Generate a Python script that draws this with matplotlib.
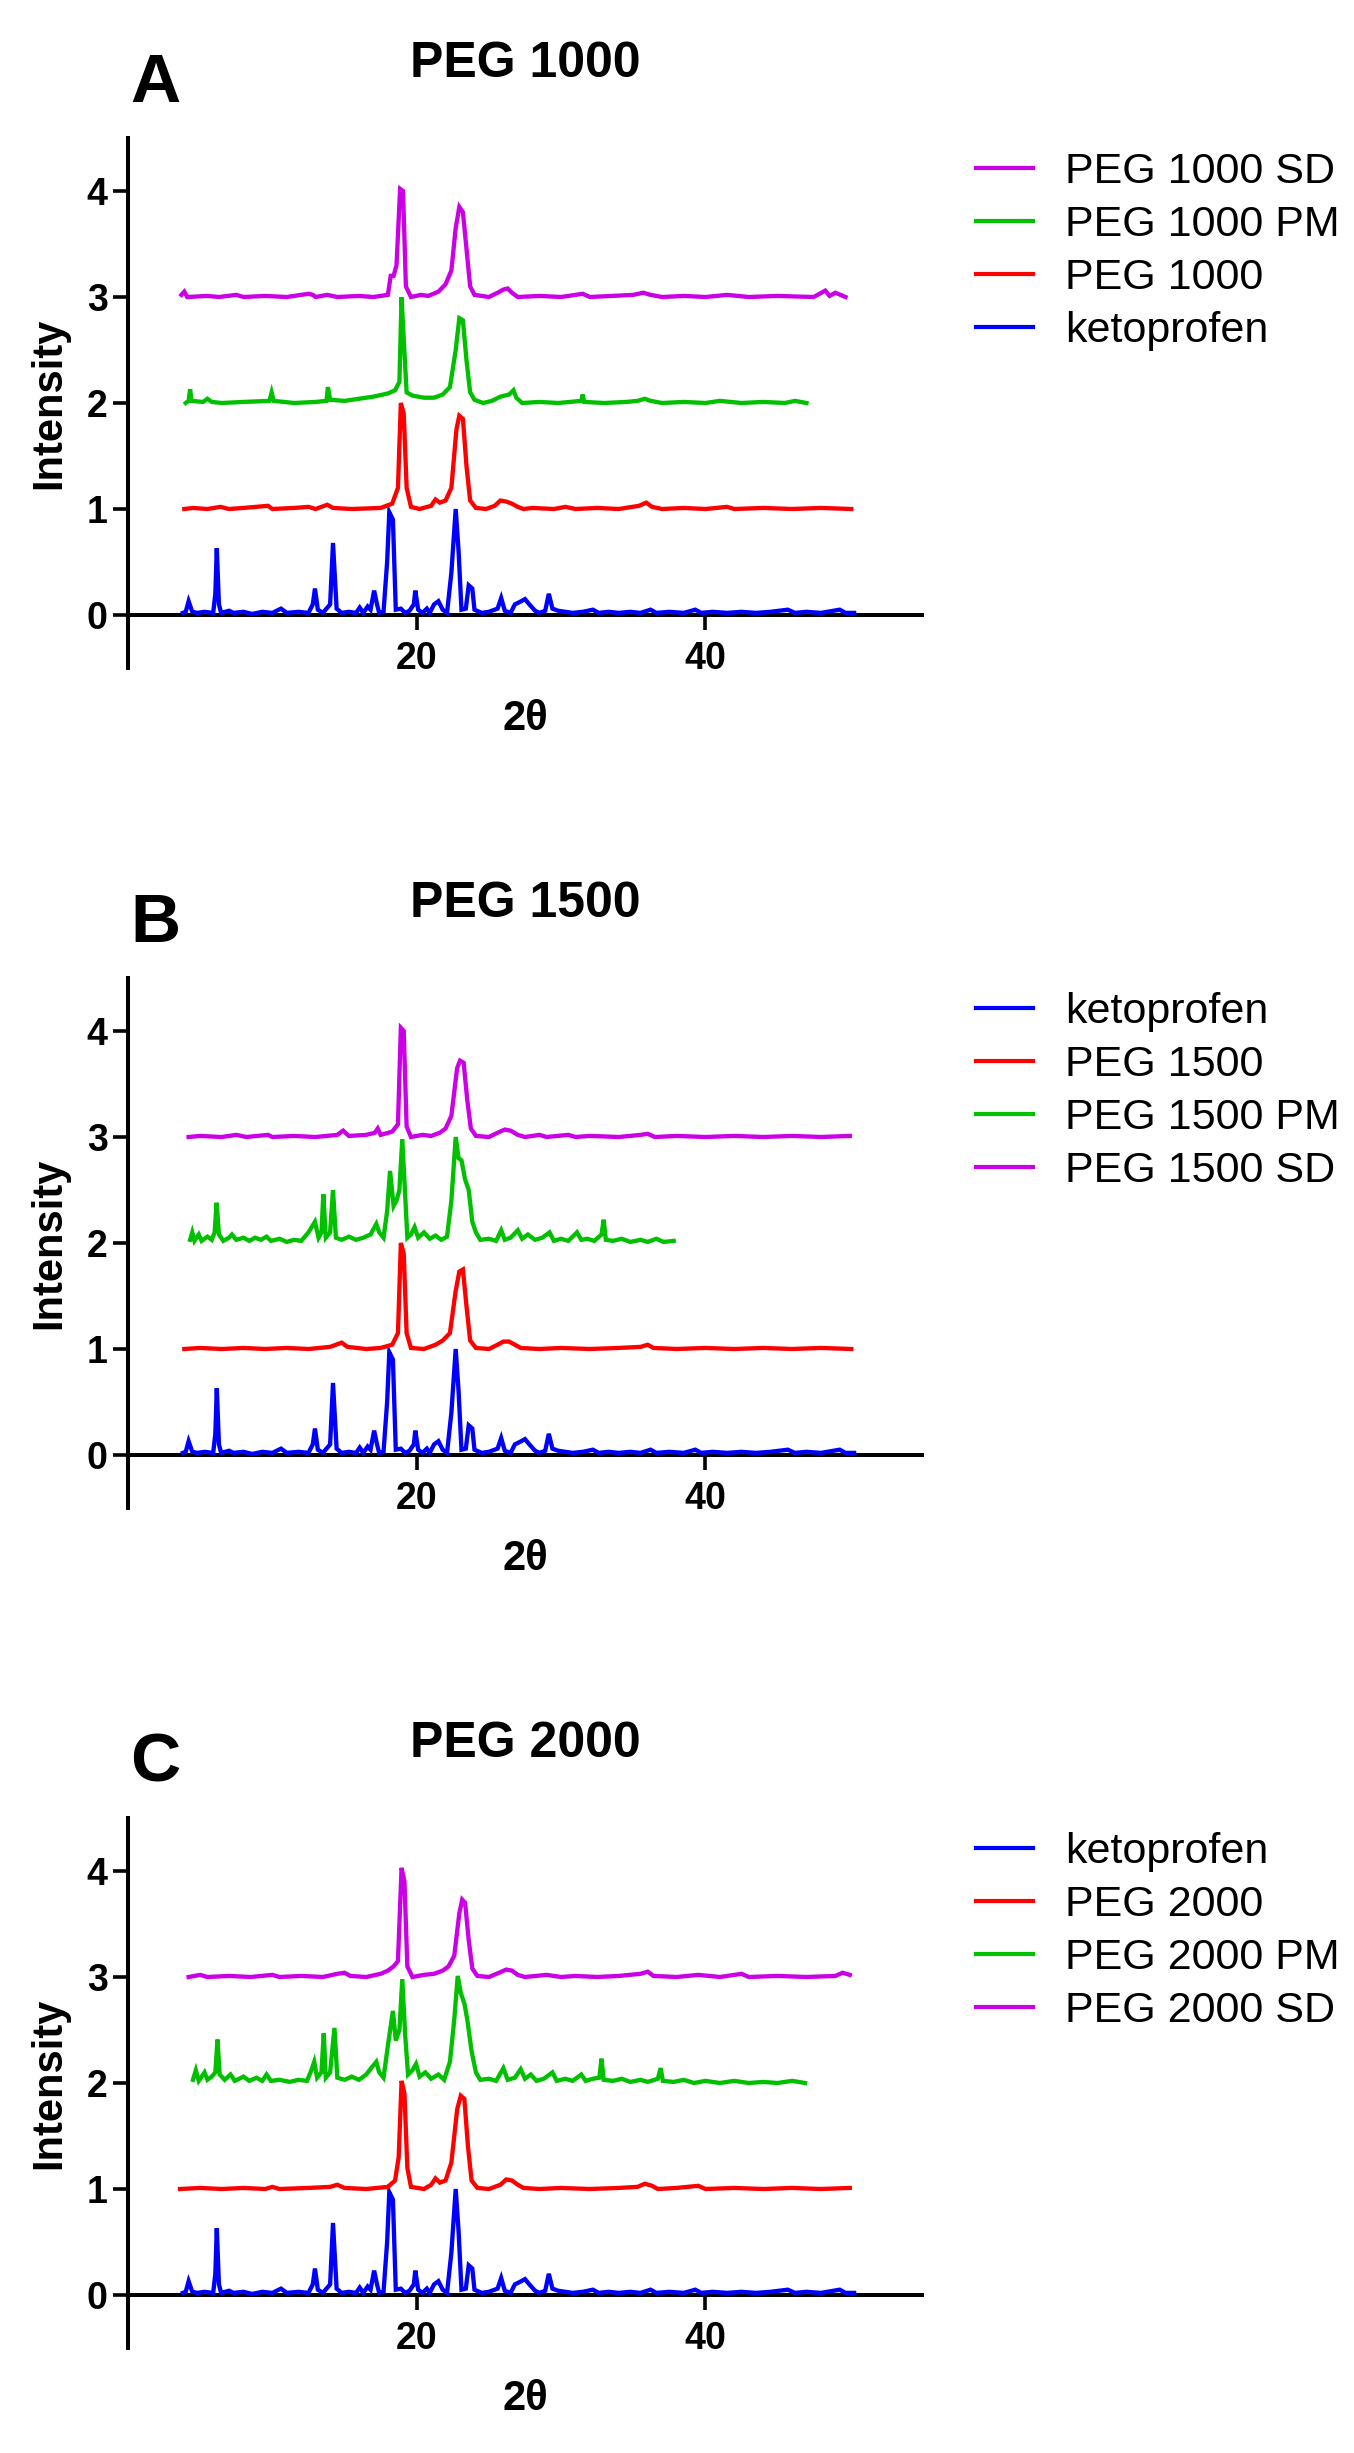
import matplotlib
matplotlib.use("Agg")
import matplotlib.pyplot as plt

plt.rcParams['font.family'] = ['Liberation Sans', 'DejaVu Sans']

# colours of the four samples
c_keto = '#0000FF'
c_peg = '#FF0000'
c_pm = '#00C000'
c_sd = '#CC00E6'

# vertical offset of each trace in the stack
offsets = [0, 1, 2, 3]

# ketoprofen (same pattern in all three panels), normalised intensity
keto_x = [3.8, 4.0, 4.2, 4.45, 4.8, 5.3, 5.9, 6.05, 6.15, 6.3, 6.45, 7.0, 7.3, 8.0, 8.6, 9.3,
          10.0, 10.6, 11.0, 11.8, 12.5, 12.8, 12.95, 13.15, 13.5, 14.0, 14.2, 14.45, 14.8,
          15.3, 15.8, 16.05, 16.3, 16.6, 16.8, 17.05, 17.25, 17.4, 17.7, 17.95, 18.1, 18.35,
          18.55, 18.9, 19.2, 19.5, 19.8, 19.9, 20.1, 20.4, 20.7, 20.9, 21.2, 21.5, 21.8, 22.1,
          22.4, 22.7, 22.9, 23.1, 23.4, 23.6, 23.85, 24.0, 24.5, 25.0, 25.6, 25.85, 26.1, 26.5,
          26.8, 27.1, 27.5, 27.8, 28.2, 28.5, 28.9, 29.15, 29.4, 29.8, 30.3, 30.8, 31.5, 32.2,
          32.6, 33.3, 34.0, 34.8, 35.5, 36.2, 36.6, 37.5, 38.5, 39.3, 39.7, 40.5, 41.5, 42.5,
          43.5, 44.5, 45.7, 46.2, 47.0, 48.0, 49.3, 49.7, 50.3]
keto_y = [0.02, 0.03, 0.13, 0.03, 0.02, 0.03, 0.02, 0.2, 0.63, 0.1, 0.02, 0.04, 0.02, 0.03, 0.01, 0.03,
          0.02, 0.06, 0.02, 0.03, 0.02, 0.1, 0.25, 0.05, 0.02, 0.1, 0.68, 0.06, 0.02,
          0.03, 0.02, 0.07, 0.02, 0.08, 0.05, 0.23, 0.1, 0.02, 0.03, 0.5, 0.97, 0.9,
          0.05, 0.06, 0.02, 0.04, 0.1, 0.23, 0.05, 0.02, 0.06, 0.02, 0.1, 0.13, 0.05, 0.02,
          0.4, 1.0, 0.6, 0.05, 0.06, 0.28, 0.25, 0.05, 0.02, 0.03, 0.06, 0.16, 0.04, 0.02,
          0.1, 0.12, 0.15, 0.1, 0.04, 0.02, 0.04, 0.2, 0.06, 0.04, 0.03, 0.02, 0.03, 0.05,
          0.02, 0.03, 0.02, 0.03, 0.02, 0.05, 0.02, 0.03, 0.02, 0.05, 0.02, 0.03, 0.02, 0.03,
          0.02, 0.03, 0.05, 0.02, 0.03, 0.02, 0.05, 0.02, 0.02]

# ---- panel A : PEG 1000 ----
peg1000_x = [3.9, 4.5, 5.5, 6.4, 7.0, 8.0, 9.7, 10.0, 11.5, 12.5, 13.0, 13.8, 14.2, 15.5, 17.5,
             18.3, 18.7, 18.9, 19.1, 19.3, 19.6, 20.2, 21.0, 21.3, 21.6, 22.0, 22.4, 22.75,
             22.95, 23.2, 23.45, 23.7, 24.1, 24.8, 25.4, 25.8, 26.2, 26.6, 27.0, 27.4, 28.0,
             29.5, 30.3, 31.0, 32.5, 34.0, 35.4, 35.9, 36.3, 37.0, 38.5, 40.0, 41.5, 42.0,
             44.0, 46.0, 48.0, 50.1]
peg1000_y = [0.0, 0.01, 0.0, 0.02, 0.0, 0.01, 0.03, 0.0, 0.01, 0.02, 0.0, 0.04, 0.01, 0.0, 0.01,
             0.05, 0.2, 1.0, 0.9, 0.2, 0.02, 0.0, 0.03, 0.09, 0.06, 0.08, 0.2, 0.75,
             0.88, 0.85, 0.4, 0.08, 0.01, 0.0, 0.03, 0.08, 0.07, 0.05, 0.02, 0.0, 0.01,
             0.0, 0.02, 0.0, 0.01, 0.0, 0.03, 0.06, 0.02, 0.0, 0.01, 0.0, 0.02, 0.0,
             0.01, 0.0, 0.01, 0.0]

pm1000_x = [4.0, 4.2, 4.3, 4.4, 5.2, 5.5, 5.8, 6.5, 8.0, 9.8, 9.95, 10.1, 11.5, 13.0, 13.75,
            13.85, 14.0, 15.0, 16.0, 17.0, 18.0, 18.5, 18.8, 18.95, 19.1, 19.3, 19.7, 20.5,
            21.2, 21.8, 22.3, 22.7, 22.95, 23.2, 23.45, 23.7, 24.0, 24.6, 25.2, 25.8, 26.4,
            26.7, 26.9, 27.3, 28.5, 29.8, 31.4, 31.5, 31.6, 33.0, 34.5, 35.3, 35.8, 36.2,
            37.0, 38.5, 40.0, 41.0, 42.5, 44.0, 45.5, 46.2, 47.0]
pm1000_y = [0.0, 0.02, 0.13, 0.02, 0.01, 0.04, 0.01, 0.0, 0.01, 0.02, 0.1, 0.02, 0.0, 0.01, 0.02,
            0.15, 0.03, 0.02, 0.04, 0.06, 0.09, 0.12, 0.2, 1.0, 0.6, 0.1, 0.07, 0.05,
            0.05, 0.08, 0.15, 0.5, 0.8, 0.78, 0.4, 0.1, 0.03, 0.0, 0.02, 0.06, 0.08,
            0.12, 0.05, 0.0, 0.01, 0.0, 0.02, 0.08, 0.01, 0.0, 0.01, 0.02, 0.04, 0.02,
            0.0, 0.01, 0.0, 0.02, 0.0, 0.01, 0.0, 0.02, 0.0]

sd1000_x = [3.7, 3.9, 4.1, 5.5, 6.3, 7.5, 8.0, 9.5, 11.0, 12.5, 12.8, 13.0, 13.8, 14.5, 16.0,
            17.0, 18.0, 18.2, 18.4, 18.6, 18.85, 19.05, 19.25, 19.6, 20.3, 20.8, 21.5, 22.0,
            22.4, 22.7, 22.95, 23.2, 23.45, 23.7, 24.0, 25.0, 25.6, 26.0, 26.3, 26.6, 27.0,
            28.5, 30.0, 31.5, 32.0, 33.5, 35.0, 35.7, 36.2, 37.0, 38.5, 40.0, 41.5, 43.0,
            45.0, 47.5, 48.3, 48.6, 49.0, 49.7]
sd1000_y = [0.02, 0.05, 0.0, 0.01, 0.0, 0.02, 0.0, 0.01, 0.0, 0.03, 0.02, 0.0, 0.02, 0.0, 0.01,
            0.0, 0.02, 0.2, 0.2, 0.3, 1.02, 1.0, 0.1, 0.0, 0.02, 0.01, 0.05, 0.12,
            0.25, 0.65, 0.85, 0.8, 0.45, 0.1, 0.02, 0.0, 0.04, 0.07, 0.08, 0.04, 0.0,
            0.01, 0.0, 0.03, 0.0, 0.01, 0.02, 0.04, 0.02, 0.0, 0.01, 0.0, 0.02, 0.0,
            0.01, 0.0, 0.06, 0.01, 0.04, 0.0]

# ---- panel B : PEG 1500 ----
peg1500_x = [3.9, 5.0, 6.5, 8.0, 9.5, 11.0, 12.5, 14.0, 14.8, 15.2, 16.5, 17.5, 18.3, 18.7,
             18.9, 19.1, 19.3, 19.6, 20.5, 21.3, 21.8, 22.3, 22.7, 22.95, 23.2, 23.45, 23.7,
             24.1, 25.0, 25.6, 26.0, 26.4, 26.8, 27.2, 28.5, 30.0, 32.0, 34.0, 35.5, 36.0,
             36.4, 38.0, 40.0, 42.0, 44.0, 46.0, 48.0, 50.1]
peg1500_y = [0.0, 0.01, 0.0, 0.01, 0.0, 0.01, 0.0, 0.02, 0.06, 0.02, 0.0, 0.01, 0.04, 0.15,
             1.0, 0.9, 0.15, 0.01, 0.0, 0.04, 0.08, 0.15, 0.55, 0.73, 0.75, 0.4, 0.08,
             0.01, 0.0, 0.04, 0.07, 0.07, 0.04, 0.01, 0.0, 0.01, 0.0, 0.01, 0.02, 0.04,
             0.01, 0.0, 0.01, 0.0, 0.01, 0.0, 0.01, 0.0]

pm1500_x = [4.3, 4.45, 4.6, 4.9, 5.1, 5.5, 5.8, 6.0, 6.14, 6.3, 6.6, 7.0, 7.2, 7.5, 8.0, 8.4,
            8.8, 9.2, 9.6, 9.9, 10.5, 11.0, 11.5, 12.0, 12.5, 12.95, 13.2, 13.4, 13.53, 13.7,
            14.0, 14.2, 14.4, 14.8, 15.3, 15.8, 16.3, 16.8, 17.2, 17.4, 17.7, 17.95, 18.15,
            18.4, 18.6, 18.8, 19.0, 19.2, 19.35, 19.6, 19.85, 20.1, 20.5, 20.9, 21.3, 21.7,
            22.1, 22.4, 22.7, 22.9, 23.1, 23.35, 23.6, 23.85, 24.1, 24.4, 25.0, 25.5, 25.85,
            26.1, 26.5, 27.0, 27.3, 27.7, 28.2, 28.7, 29.2, 29.5, 30.0, 30.5, 31.1, 31.4,
            31.8, 32.3, 32.8, 32.95, 33.1, 33.6, 34.2, 34.8, 35.5, 36.0, 36.6, 37.1, 37.8]
pm1500_y = [0.03, 0.1, 0.02, 0.08, 0.02, 0.06, 0.03, 0.1, 0.38, 0.08, 0.02, 0.05, 0.08, 0.03, 0.05, 0.02,
            0.05, 0.03, 0.06, 0.02, 0.04, 0.01, 0.03, 0.02, 0.1, 0.2, 0.05, 0.1, 0.46, 0.05,
            0.1, 0.5, 0.05, 0.03, 0.06, 0.03, 0.05, 0.08, 0.18, 0.1, 0.05, 0.3, 0.68,
            0.35, 0.4, 0.5, 0.98, 0.45, 0.05, 0.08, 0.15, 0.05, 0.1, 0.04, 0.07, 0.03,
            0.06, 0.4, 1.0, 0.8, 0.78, 0.6, 0.5, 0.2, 0.1, 0.03, 0.04, 0.02, 0.12,
            0.03, 0.05, 0.12, 0.04, 0.08, 0.03, 0.05, 0.1, 0.02, 0.04, 0.02, 0.1, 0.03,
            0.04, 0.02, 0.08, 0.22, 0.03, 0.02, 0.04, 0.01, 0.03, 0.01, 0.04, 0.01, 0.02]

sd1500_x = [4.2, 5.0, 6.5, 7.5, 8.2, 9.7, 10.0, 11.5, 13.0, 14.5, 14.9, 15.3, 16.5, 17.1, 17.3,
            17.5, 18.3, 18.7, 18.9, 19.1, 19.3, 19.6, 20.4, 21.0, 21.6, 22.0, 22.4, 22.8,
            23.0, 23.25, 23.5, 23.75, 24.1, 25.0, 25.6, 26.1, 26.5, 27.0, 27.5, 28.5, 29.0,
            30.5, 31.0, 32.0, 34.0, 35.5, 36.0, 36.5, 38.0, 40.0, 42.0, 44.0, 46.0, 48.0, 50.0]
sd1500_y = [0.0, 0.01, 0.0, 0.02, 0.0, 0.02, 0.0, 0.01, 0.0, 0.02, 0.06, 0.01, 0.02, 0.04, 0.08,
            0.02, 0.05, 0.12, 1.03, 1.0, 0.1, 0.0, 0.02, 0.01, 0.04, 0.08, 0.2, 0.65,
            0.72, 0.7, 0.35, 0.08, 0.01, 0.0, 0.04, 0.07, 0.06, 0.02, 0.0, 0.02, 0.0,
            0.02, 0.0, 0.01, 0.0, 0.02, 0.03, 0.0, 0.01, 0.0, 0.01, 0.0, 0.01, 0.0, 0.01]

# ---- panel C : PEG 2000 ----
peg2000_x = [3.6, 5.0, 6.5, 8.0, 9.5, 10.0, 10.5, 12.5, 14.0, 14.5, 15.0, 16.5, 18.0, 18.5,
             18.75, 18.95, 19.15, 19.35, 19.6, 20.5, 21.0, 21.3, 21.6, 22.0, 22.4, 22.8,
             23.05, 23.3, 23.55, 23.8, 24.2, 25.0, 25.8, 26.2, 26.6, 27.0, 27.4, 28.5, 30.0,
             32.0, 34.0, 35.3, 35.8, 36.3, 36.7, 38.0, 39.5, 40.0, 42.0, 44.0, 46.0, 48.0, 50.0]
peg2000_y = [0.0, 0.01, 0.0, 0.01, 0.0, 0.02, 0.0, 0.01, 0.02, 0.04, 0.01, 0.0, 0.02, 0.08,
             0.3, 1.02, 0.9, 0.2, 0.02, 0.0, 0.04, 0.1, 0.06, 0.08, 0.25, 0.75,
             0.88, 0.85, 0.4, 0.08, 0.01, 0.0, 0.04, 0.09, 0.08, 0.04, 0.01, 0.0, 0.01,
             0.0, 0.01, 0.02, 0.05, 0.03, 0.0, 0.01, 0.03, 0.0, 0.01, 0.0, 0.01, 0.0, 0.01]

pm2000_x = [4.5, 4.7, 4.9, 5.3, 5.5, 5.8, 6.05, 6.2, 6.35, 6.7, 7.1, 7.4, 8.0, 8.4, 8.9, 9.3,
            9.6, 9.9, 10.5, 11.2, 11.8, 12.4, 12.7, 12.9, 13.1, 13.4, 13.56, 13.7, 14.0, 14.3,
            14.5, 15.0, 15.5, 16.0, 16.5, 16.9, 17.2, 17.4, 17.7, 18.0, 18.35, 18.55, 18.8,
            19.0, 19.2, 19.4, 19.7, 19.95, 20.2, 20.6, 21.0, 21.5, 21.9, 22.3, 22.6, 22.84,
            23.05, 23.3, 23.5, 23.8, 24.1, 24.4, 25.0, 25.5, 26.0, 26.3, 26.8, 27.2, 27.5,
            27.9, 28.3, 28.8, 29.4, 29.7, 30.3, 30.8, 31.4, 31.7, 32.2, 32.65, 32.8, 32.95,
            33.6, 34.2, 34.8, 35.5, 36.0, 36.7, 36.9, 37.05, 37.8, 38.5, 39.2, 40.0, 41.0,
            42.0, 43.0, 44.0, 45.0, 46.0, 46.9]
pm2000_y = [0.03, 0.12, 0.02, 0.1, 0.03, 0.06, 0.1, 0.41, 0.08, 0.03, 0.08, 0.02, 0.06, 0.02, 0.05, 0.02,
            0.08, 0.02, 0.03, 0.01, 0.03, 0.02, 0.12, 0.2, 0.05, 0.1, 0.47, 0.05, 0.1, 0.52,
            0.05, 0.03, 0.06, 0.03, 0.08, 0.15, 0.2, 0.1, 0.05, 0.35, 0.68, 0.4, 0.5,
            0.98, 0.45, 0.08, 0.12, 0.18, 0.06, 0.1, 0.04, 0.08, 0.03, 0.2, 0.6, 1.01,
            0.85, 0.75, 0.6, 0.3, 0.1, 0.03, 0.04, 0.02, 0.14, 0.03, 0.05, 0.13, 0.04,
            0.08, 0.02, 0.04, 0.1, 0.02, 0.04, 0.02, 0.08, 0.02, 0.04, 0.05, 0.23, 0.03,
            0.02, 0.04, 0.01, 0.03, 0.01, 0.04, 0.14, 0.02, 0.01, 0.03, 0.0, 0.02, 0.0,
            0.02, 0.0, 0.01, 0.0, 0.02, 0.0]

sd2000_x = [4.2, 5.0, 5.5, 7.0, 8.5, 10.0, 10.5, 12.0, 13.5, 14.5, 15.0, 15.4, 16.5, 17.5, 18.0,
            18.4, 18.7, 18.95, 19.15, 19.35, 19.7, 20.5, 21.2, 21.8, 22.2, 22.6, 22.95, 23.15,
            23.35, 23.6, 23.85, 24.2, 25.0, 25.7, 26.2, 26.6, 27.0, 27.5, 29.0, 30.0, 31.0,
            32.5, 34.0, 35.5, 36.0, 36.4, 38.0, 39.5, 41.0, 42.5, 43.0, 45.0, 47.0, 49.0,
            49.5, 50.0]
sd2000_y = [0.0, 0.02, 0.0, 0.01, 0.0, 0.02, 0.0, 0.01, 0.0, 0.03, 0.04, 0.01, 0.0, 0.03, 0.06,
            0.1, 0.15, 1.03, 0.9, 0.1, 0.0, 0.02, 0.03, 0.06, 0.1, 0.2, 0.6, 0.73,
            0.7, 0.35, 0.08, 0.01, 0.0, 0.04, 0.07, 0.06, 0.02, 0.0, 0.02, 0.0, 0.01,
            0.0, 0.01, 0.03, 0.05, 0.01, 0.0, 0.02, 0.0, 0.03, 0.0, 0.01, 0.0, 0.01,
            0.04, 0.02]

panels = [
    ('A', 'PEG 1000',
     [(keto_x, keto_y, c_keto, 'ketoprofen'),
      (peg1000_x, peg1000_y, c_peg, 'PEG 1000'),
      (pm1000_x, pm1000_y, c_pm, 'PEG 1000 PM'),
      (sd1000_x, sd1000_y, c_sd, 'PEG 1000 SD')],
     [3, 2, 1, 0]),
    ('B', 'PEG 1500',
     [(keto_x, keto_y, c_keto, 'ketoprofen'),
      (peg1500_x, peg1500_y, c_peg, 'PEG 1500'),
      (pm1500_x, pm1500_y, c_pm, 'PEG 1500 PM'),
      (sd1500_x, sd1500_y, c_sd, 'PEG 1500 SD')],
     [0, 1, 2, 3]),
    ('C', 'PEG 2000',
     [(keto_x, keto_y, c_keto, 'ketoprofen'),
      (peg2000_x, peg2000_y, c_peg, 'PEG 2000'),
      (pm2000_x, pm2000_y, c_pm, 'PEG 2000 PM'),
      (sd2000_x, sd2000_y, c_sd, 'PEG 2000 SD')],
     [0, 1, 2, 3]),
]

W, H = 1354, 2453
fig = plt.figure(figsize=(W / 100, H / 100), dpi=100)

ax_left, ax_w, ax_h = 128 / W, 794 / W, 530 / H
tops_px = [138, 978, 1818]

for (letter, title, traces, order), top in zip(panels, tops_px):
    ax = fig.add_axes([ax_left, 1 - (top + 530) / H, ax_w, ax_h])
    lines = []
    for (xs, ys, col, lab), off in zip(traces, offsets):
        ln, = ax.plot(xs, [v + off for v in ys], color=col, lw=3.1, label=lab,
                      solid_joinstyle='miter', zorder=3)
        lines.append(ln)

    ax.set_xlim(0, 55)
    ax.set_ylim(-0.5, 4.5)
    ax.set_xticks([20, 40])
    ax.set_yticks([0, 1, 2, 3, 4])
    for s in ['top', 'right']:
        ax.spines[s].set_visible(False)
    ax.spines['bottom'].set_position(('data', 0))
    for s in ['bottom', 'left']:
        ax.spines[s].set_linewidth(2.9)
    ax.tick_params(axis='both', width=2.6, length=11, labelsize=27)
    ax.tick_params(axis='x', pad=8)
    ax.tick_params(axis='y', pad=3.6)
    for t in ax.get_xticklabels() + ax.get_yticklabels():
        t.set_fontweight('bold')

    ax.set_title(title, fontsize=36, fontweight='bold', pad=44)
    ax.text(0.034, 1.068, letter, transform=ax.transAxes, fontsize=50,
            fontweight='bold', ha='center', va='baseline')
    ax.set_ylabel('Intensity', fontsize=30, fontweight='bold')
    ax.yaxis.set_label_coords(-0.074, 0.5)
    ax.set_xlabel('2θ', fontsize=30, fontweight='bold')
    ax.xaxis.set_label_coords(0.5, -0.058)

    leg = fig.legend([lines[i] for i in order], [traces[i][3] for i in order],
                     loc='upper left', bbox_to_anchor=(976 / W, 1 - (top + 14) / H),
                     frameon=False, fontsize=31, borderpad=0, borderaxespad=0,
                     handlelength=1.33, handletextpad=0.74, labelspacing=0.3)
    for lh in leg.get_lines():
        lh.set_linewidth(3.0)

fig.savefig('out.png', dpi=100)
